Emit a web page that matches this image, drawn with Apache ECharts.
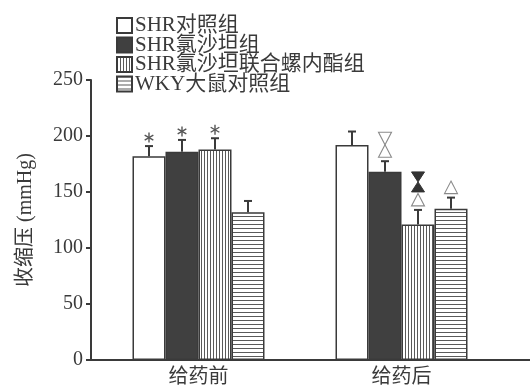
<!DOCTYPE html>
<html>
<head>
<meta charset="utf-8">
<script src="https://cdn.jsdelivr.net/npm/echarts@6/dist/echarts.min.js"></script>
<style>
  html, body { margin: 0; padding: 0; background: #fff; }
  #chart { width: 530px; height: 389px; }
</style>
</head>
<body>
<div id="chart"></div>
<script>
// Systolic blood pressure before / after treatment, four groups
const categories = ['给药前', '给药后'];
const groupNames = ['SHR对照组', 'SHR氯沙坦组', 'SHR氯沙坦联合螺内酯组', 'WKY大鼠对照组'];

const shrControl = [182, 192];
const shrLosartan = [186, 168];
const shrCombo = [188, 121];
const wkyControl = [132, 135];

const shrControlErr = [9, 12];
const shrLosartanErr = [10.5, 9.5];
const shrComboErr = [10, 13];
const wkyControlErr = [10, 10];

// significance marks, listed bottom-to-top above each error bar
const shrControlMarks = [['*'], []];
const shrLosartanMarks = [['*'], ['△', '▽']];
const shrComboMarks = [['*'], ['△', '▲', '▼']];
const wkyControlMarks = [[], ['△']];

const yTicks = { min: 0, max: 250, interval: 50 };
const yName = '收缩压 (mmHg)';

const values = [shrControl, shrLosartan, shrCombo, wkyControl];
const errors = [shrControlErr, shrLosartanErr, shrComboErr, wkyControlErr];
const marks = [shrControlMarks, shrLosartanMarks, shrComboMarks, wkyControlMarks];

const FONT = "'Liberation Serif', 'Noto Sans CJK SC', serif";
const INK = '#3a3a3a';
const BAR_W = 33;

function stripes(vertical) {
  const n = vertical ? 3 : 4;
  const c = document.createElement('canvas');
  c.width = n; c.height = n;
  const ctx = c.getContext('2d');
  ctx.fillStyle = '#fff';
  ctx.fillRect(0, 0, n, n);
  ctx.fillStyle = '#5a5a5a';
  if (vertical) ctx.fillRect(0, 0, 1, n); else ctx.fillRect(0, 0, n, 1);
  return { image: c, repeat: 'repeat' };
}

const fills = ['#ffffff', '#404040', stripes(true), stripes(false)];

function markShapes(stack, cx, capY) {
  const out = [];
  let y = capY - 4; // bottom of the next mark
  let prev = null;
  stack.forEach(function (m) {
    if (m === '*') {
      const cy = y - 4.5;
      const r = 5;
      [90, 30, 150].forEach(function (deg) {
        const a = deg * Math.PI / 180;
        out.push({
          type: 'line',
          shape: { x1: cx - r * Math.cos(a), y1: cy - r * Math.sin(a), x2: cx + r * Math.cos(a), y2: cy + r * Math.sin(a) },
          style: { stroke: '#555', lineWidth: 1.4 }
        });
      });
      y = cy - r;
      prev = m;
      return;
    }
    const filled = (m === '▲' || m === '▼');
    const up = (m === '△' || m === '▲');
    const h = filled ? 10 : 12.5;
    const w = 13;
    if (prev && prev !== '*') {
      const prevFilled = (prev === '▲' || prev === '▼');
      if (prevFilled !== filled) y -= 1.5;
    }
    const top = y - h, bot = y;
    const pts = up
      ? [[cx, top], [cx + w / 2, bot], [cx - w / 2, bot]]
      : [[cx - w / 2, top], [cx + w / 2, top], [cx, bot]];
    out.push({
      type: 'polygon',
      shape: { points: pts },
      style: filled
        ? { fill: '#333', stroke: '#333', lineWidth: 1 }
        : { fill: 'none', stroke: '#8a8a8a', lineWidth: 1.1 }
    });
    y = top;
    prev = m;
  });
  return out;
}

function errorSeries(i) {
  return {
    type: 'custom',
    name: 'err' + i,
    xAxisIndex: 0,
    yAxisIndex: 0,
    z: 5,
    silent: true,
    encode: { x: 0, y: 1 },
    data: categories.map(function (c, k) { return [k, values[i][k], errors[i][k]]; }),
    renderItem: function (params, api) {
      const k = api.value(0);
      const base = api.coord([k, api.value(1)]);
      const cap = api.coord([k, api.value(1) + api.value(2)]);
      const cx = base[0] + (i - 1.5) * BAR_W;
      const children = [
        { type: 'line', shape: { x1: cx, y1: base[1], x2: cx, y2: cap[1] }, style: { stroke: INK, lineWidth: 2 } },
        { type: 'line', shape: { x1: cx - 4, y1: cap[1], x2: cx + 4, y2: cap[1] }, style: { stroke: INK, lineWidth: 2 } }
      ];
      return { type: 'group', children: children.concat(markShapes(marks[i][k], cx, cap[1])) };
    }
  };
}

const barSeries = groupNames.map(function (name, i) {
  return {
    type: 'bar',
    name: name,
    data: values[i],
    barWidth: BAR_W,
    barGap: '0%',
    itemStyle: { color: fills[i], borderColor: INK, borderWidth: 1.5 },
    emphasis: { disabled: true }
  };
});

const chart = echarts.init(document.getElementById('chart'), null, { renderer: 'canvas' });
chart.setOption({
  animation: false,
  backgroundColor: '#fff',
  textStyle: { fontFamily: FONT, color: INK },
  legend: {
    data: groupNames,
    orient: 'vertical',
    left: 111,
    top: 10,
    itemWidth: 15,
    itemHeight: 15,
    itemGap: -1.5,
    icon: 'rect',
    selectedMode: false,
    textStyle: { fontFamily: FONT, fontSize: 21, color: INK, padding: [0, 0, 0, -2] }
  },
  grid: [
    { left: 97, right: 27, top: 80, bottom: 29 },
    { left: 91, right: 0, top: 80, bottom: 29 }
  ],
  xAxis: [
    {
      type: 'category',
      gridIndex: 0,
      data: categories,
      axisLine: { show: false },
      axisTick: { show: false },
      axisLabel: { fontFamily: FONT, fontSize: 20, color: INK, margin: 8 }
    },
    {
      type: 'value',
      gridIndex: 1,
      min: 0, max: 1,
      axisLine: { show: true, lineStyle: { color: INK, width: 2 } },
      axisTick: { show: false },
      axisLabel: { show: false },
      splitLine: { show: false }
    }
  ],
  yAxis: [
    {
      type: 'value',
      gridIndex: 0,
      min: yTicks.min,
      max: yTicks.max,
      interval: yTicks.interval,
      offset: 6,
      name: yName,
      nameLocation: 'middle',
      nameGap: 55,
      nameTextStyle: { fontFamily: FONT, fontSize: 20, color: INK },
      axisLine: { show: true, lineStyle: { color: INK, width: 2 } },
      axisTick: { show: true, length: 5, lineStyle: { color: INK, width: 2 } },
      axisLabel: { fontFamily: FONT, fontSize: 20, color: INK, margin: 8 },
      splitLine: { show: false }
    },
    { type: 'value', gridIndex: 1, show: false, min: 0, max: 1 }
  ],
  series: barSeries.concat(groupNames.map(function (n, i) { return errorSeries(i); }))
});
</script>
</body>
</html>
